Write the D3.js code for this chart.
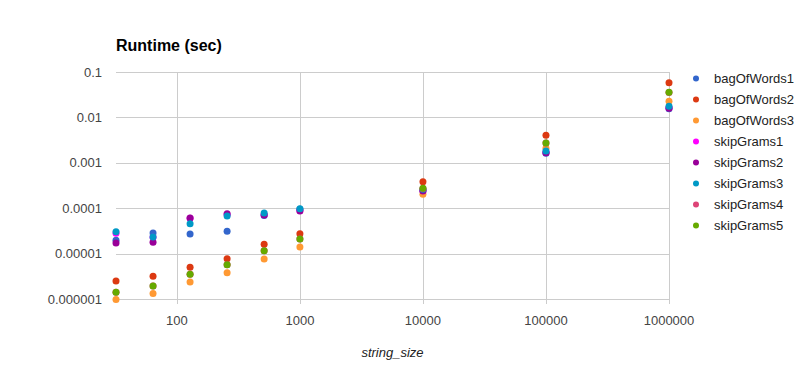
<!DOCTYPE html>
<html>
<head>
<meta charset="utf-8">
<script src="https://cdn.jsdelivr.net/npm/d3@7"></script>
<style>
  body { margin: 0; background: #fff; }
  svg { font-family: Arial, "Liberation Sans", sans-serif; }
</style>
</head>
<body>
<svg id="chart" width="807" height="377"></svg>
<script>
// string sizes on the x axis
const stringSizes = [32, 64, 128, 256, 512, 1000, 10000, 100000, 1000000];

const seriesNames = ['bagOfWords1', 'bagOfWords2', 'bagOfWords3', 'skipGrams1',
  'skipGrams2', 'skipGrams3', 'skipGrams4', 'skipGrams5'];

// runtime in seconds
const bagOfWords1 = [1.96e-5, 2.85e-5, 2.71e-5, 3.1e-5, 6.9e-5, 9.5e-5, 2.45e-4, 1.62e-3, 1.55e-2];
const bagOfWords2 = [2.49e-6, 3.16e-6, 4.99e-6, 7.7e-6, 1.6e-5, 2.74e-5, 3.84e-4, 4.03e-3, 5.82e-2];
const bagOfWords3 = [9.7e-7, 1.33e-6, 2.37e-6, 3.8e-6, 7.6e-6, 1.4e-5, 2.02e-4, 2.08e-3, 2.26e-2];
const skipGrams1 = [2.8e-5, 2.3e-5, 6.0e-5, 7.2e-5, 7.3e-5, 8.9e-5, 2.45e-4, 1.7e-3, 1.65e-2];
const skipGrams2 = [1.71e-5, 1.77e-5, 6.08e-5, 7.57e-5, 7.1e-5, 8.67e-5, 2.38e-4, 1.66e-3, 1.6e-2];
const skipGrams3 = [3.04e-5, 2.32e-5, 4.56e-5, 6.73e-5, 7.83e-5, 9.75e-5, 2.6e-4, 1.82e-3, 1.75e-2];
const skipGrams4 = [1.4e-6, 1.93e-6, 3.5e-6, 5.7e-6, 1.16e-5, 2.1e-5, 2.72e-4, 2.72e-3, 3.55e-2];
const skipGrams5 = [1.4e-6, 1.93e-6, 3.5e-6, 5.7e-6, 1.16e-5, 2.1e-5, 2.74e-4, 2.73e-3, 3.57e-2];

const xTicks = [100, 1000, 10000, 100000, 1000000];
const yTicks = [0.000001, 0.00001, 0.0001, 0.001, 0.01, 0.1];
const yTickLabels = ['0.000001', '0.00001', '0.0001', '0.001', '0.01', '0.1'];

const colors = ['#3366cc', '#dc3912', '#ff9933', '#ff00ff', '#990099', '#0099c6', '#dd4477', '#66aa00'];

const allSeries = [bagOfWords1, bagOfWords2, bagOfWords3, skipGrams1,
  skipGrams2, skipGrams3, skipGrams4, skipGrams5];

const plot = { left: 116, right: 669, top: 72, bottom: 304 };

const svg = d3.select('#chart');

const x = d3.scaleLog().domain([32, 1000000]).range([plot.left, plot.right]);
// bottom edge sits a little below 1e-6
const y = d3.scaleLog().domain([Math.pow(10, -6 - 5 / 45.4), 0.1]).range([plot.bottom, plot.top]);

// gridlines
svg.append('g')
  .selectAll('line')
  .data(yTicks)
  .enter()
  .append('line')
  .attr('x1', plot.left).attr('x2', plot.right)
  .attr('y1', d => Math.round(y(d)) + 0.5)
  .attr('y2', d => Math.round(y(d)) + 0.5)
  .attr('stroke', '#cccccc');

svg.append('g')
  .selectAll('line')
  .data(xTicks)
  .enter()
  .append('line')
  .attr('x1', d => Math.round(x(d)) + 0.5)
  .attr('x2', d => Math.round(x(d)) + 0.5)
  .attr('y1', plot.top).attr('y2', plot.bottom)
  .attr('stroke', '#cccccc');

// axis labels
svg.append('g')
  .selectAll('text')
  .data(yTicks)
  .enter()
  .append('text')
  .attr('x', 102)
  .attr('y', d => y(d) + 4.5)
  .attr('text-anchor', 'end')
  .attr('font-size', 13)
  .attr('fill', '#444')
  .text((d, i) => yTickLabels[i]);

svg.append('g')
  .selectAll('text')
  .data(xTicks)
  .enter()
  .append('text')
  .attr('x', d => x(d))
  .attr('y', 325)
  .attr('text-anchor', 'middle')
  .attr('font-size', 13)
  .attr('fill', '#444')
  .text(d => d3.format('d')(d));

svg.append('text')
  .attr('x', (plot.left + plot.right) / 2)
  .attr('y', 357)
  .attr('text-anchor', 'middle')
  .attr('font-size', 13)
  .attr('font-style', 'italic')
  .attr('fill', '#222')
  .text('string_size');

svg.append('text')
  .attr('x', plot.left)
  .attr('y', 50.5)
  .attr('font-size', 16)
  .attr('font-weight', 'bold')
  .attr('fill', '#000')
  .text('Runtime (sec)');

// points, later series on top
allSeries.forEach((values, s) => {
  svg.append('g')
    .selectAll('circle')
    .data(values)
    .enter()
    .append('circle')
    .attr('cx', (d, i) => x(stringSizes[i]))
    .attr('cy', d => y(d))
    .attr('r', 3.5)
    .attr('fill', colors[s]);
});

// legend
const legend = svg.append('g')
  .selectAll('g')
  .data(seriesNames)
  .enter()
  .append('g')
  .attr('transform', (d, i) => `translate(0,${78.5 + i * 21})`);

legend.append('circle')
  .attr('cx', 696)
  .attr('cy', 0)
  .attr('r', 3)
  .attr('fill', (d, i) => colors[i]);

legend.append('text')
  .attr('x', 714)
  .attr('y', 4.5)
  .attr('font-size', 13)
  .attr('fill', '#222')
  .text(d => d);
</script>
</body>
</html>
